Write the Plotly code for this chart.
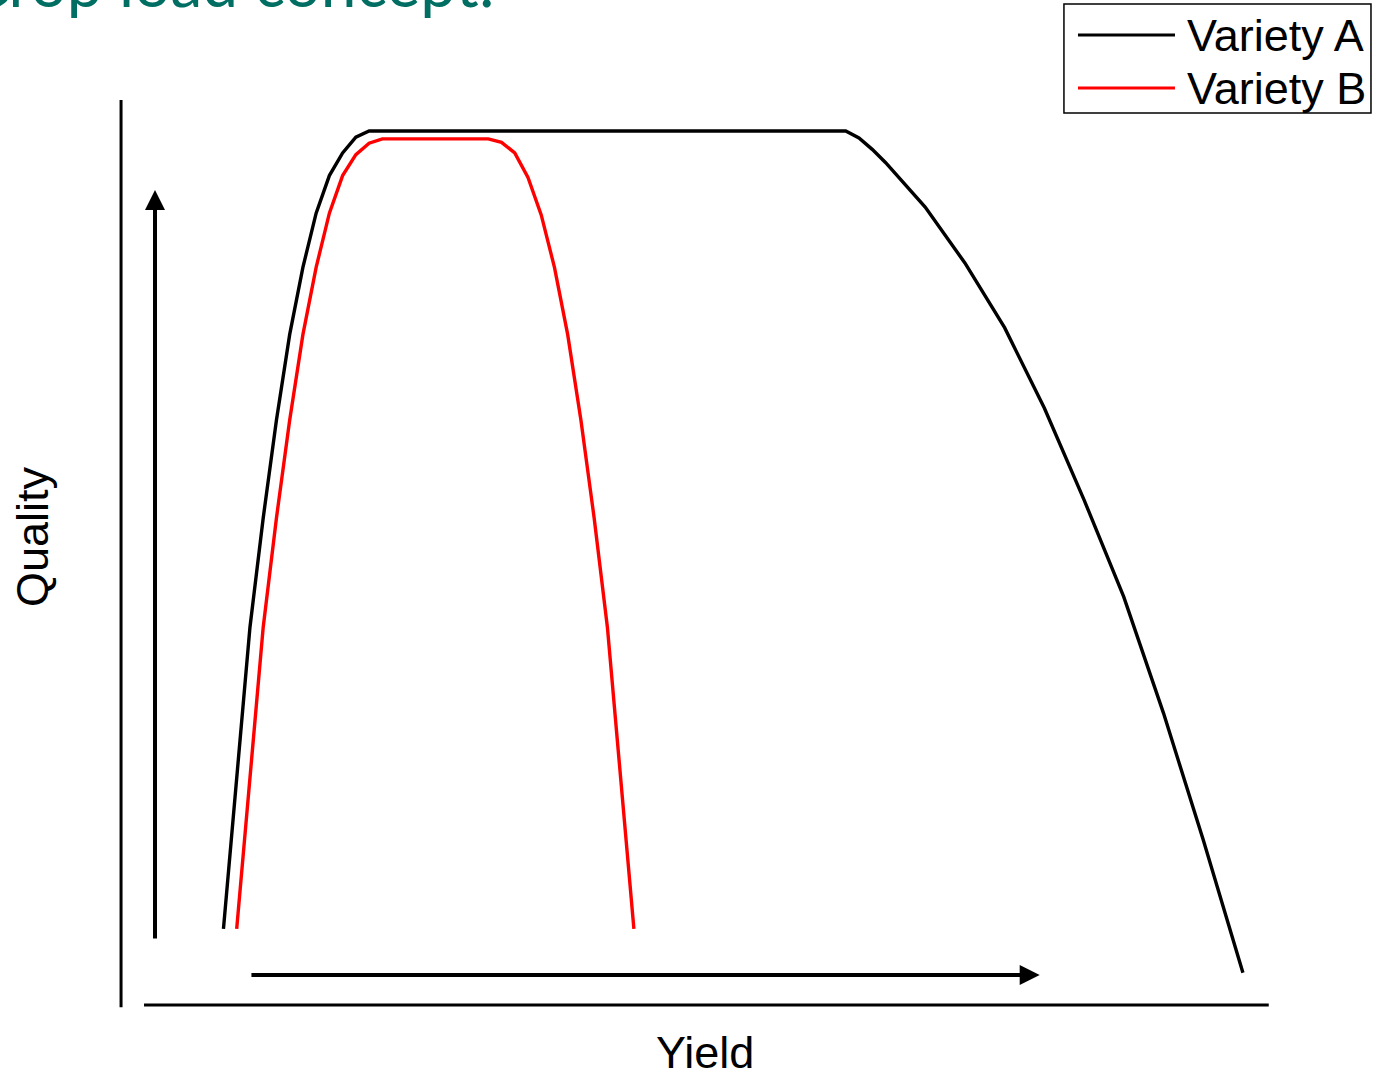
import plotly.graph_objects as go

# ── Data ──────────────────────────────────────────────────────────────────────
YIELD_A = [1.2, 1.6, 1.8, 2.0, 2.2, 2.4, 2.6, 2.8, 3.0, 3.2, 3.4,
           10.6, 10.8, 11.0, 11.2, 11.8, 12.4, 13.0, 13.6, 14.2, 14.8, 15.4, 16.0, 16.6]
QUALITY_A = [8.7, 43.2, 55.7, 66.9, 76.7, 84.4, 90.6, 94.9, 97.5, 99.3, 100.0,
             100.0, 99.2, 97.9, 96.4, 91.3, 84.9, 77.5, 68.3, 57.8, 46.7, 33.4, 18.9, 3.7]

YIELD_B = [1.4, 1.8, 2.0, 2.2, 2.4, 2.6, 2.8, 3.0, 3.2, 3.4, 3.6,
           5.2, 5.4, 5.6, 5.8, 6.0, 6.2, 6.4, 6.6, 6.8, 7.0, 7.4]
QUALITY_B = [8.7, 43.2, 55.7, 66.9, 76.7, 84.4, 90.6, 94.9, 97.3, 98.6, 99.1,
             99.1, 98.7, 97.5, 94.7, 90.4, 84.4, 76.7, 66.9, 55.7, 43.2, 8.7]

SERIES = [("Variety A", YIELD_A, QUALITY_A, "#000000"),
          ("Variety B", YIELD_B, QUALITY_B, "#ff0000")]

TITLE = "Crop load concept:"

# ── Style ─────────────────────────────────────────────────────────────────────
_FONT = "Arial, Liberation Sans, sans-serif"
_TEAL = "#006e62"
_TXT = 45

fig = go.Figure()
for name, xs, ys, color in SERIES:
    fig.add_trace(go.Scatter(
        x=xs, y=ys, mode="lines", name=name,
        line=dict(color=color, width=3.4),
        showlegend=False,
    ))

# axis lines (drawn apart, like the original)
shapes = [
    dict(type="line", xref="x", yref="y", x0=-0.347, x1=-0.347, y0=-0.25, y1=103.55,
         line=dict(color="black", width=3)),
    dict(type="line", xref="x", yref="y", x0=0, x1=16.99, y0=0, y1=0,
         line=dict(color="black", width=3)),
    # legend frame
    dict(type="rect", xref="paper", yref="paper", x0=0.8169, x1=1.0771, y0=0.9804, y1=1.0989,
         line=dict(color="black", width=1.5), fillcolor="white"),
]

# legend samples
leg_rows = [(1.0652, "Variety A", "#000000"), (1.0076, "Variety B", "#ff0000")]
annotations = []
for yy, name, color in leg_rows:
    shapes.append(dict(type="line", xref="paper", yref="paper", x0=0.8288, x1=0.9110,
                       y0=yy, y1=yy, line=dict(color=color, width=3)))
    annotations.append(dict(xref="paper", yref="paper", x=0.9195, y=yy, xanchor="left",
                            yanchor="middle", text=name, showarrow=False,
                            font=dict(family=_FONT, size=_TXT, color="black")))

# direction arrows
annotations += [
    dict(x=0.166, y=93.25, ax=0.166, ay=7.44, xref="x", yref="y", axref="x", ayref="y",
         showarrow=True, arrowhead=2, arrowsize=1.0, arrowwidth=4, arrowcolor="black",
         text=""),
    dict(x=13.53, y=3.43, ax=1.60, ay=3.43, xref="x", yref="y", axref="x", ayref="y",
         showarrow=True, arrowhead=2, arrowsize=1.0, arrowwidth=4, arrowcolor="black",
         text=""),
    # axis labels
    dict(xref="paper", yref="paper", x=-0.0568, y=0.5207, text="Quality", textangle=-90,
         showarrow=False, xanchor="center", yanchor="middle",
         font=dict(family=_FONT, size=_TXT, color="black")),
    dict(xref="paper", yref="paper", x=0.5127, y=-0.0410, text="Yield",
         showarrow=False, xanchor="center", yanchor="middle",
         font=dict(family=_FONT, size=_TXT, color="black")),
    # title, cut off at the top edge
    dict(xref="paper", yref="paper", x=0.3364, y=1.1222, text=TITLE,
         showarrow=False, xanchor="right", yanchor="middle",
         font=dict(family="Lato, sans-serif", size=64, color=_TEAL)),
]

fig.update_layout(
    width=1376, height=1076,
    plot_bgcolor="white", paper_bgcolor="white",
    margin=dict(l=100, r=96, t=95, b=61),
    showlegend=False,
    xaxis=dict(range=[-0.665, 17.16], visible=False, fixedrange=True),
    yaxis=dict(range=[-1.144, 104.12], visible=False, fixedrange=True),
    shapes=shapes,
    annotations=annotations,
)

# drop the browser's default 8px body margin so the figure fills the window
fig.write_html("out.html", config={"displayModeBar": False},
               post_script="document.body.style.margin='0';")
